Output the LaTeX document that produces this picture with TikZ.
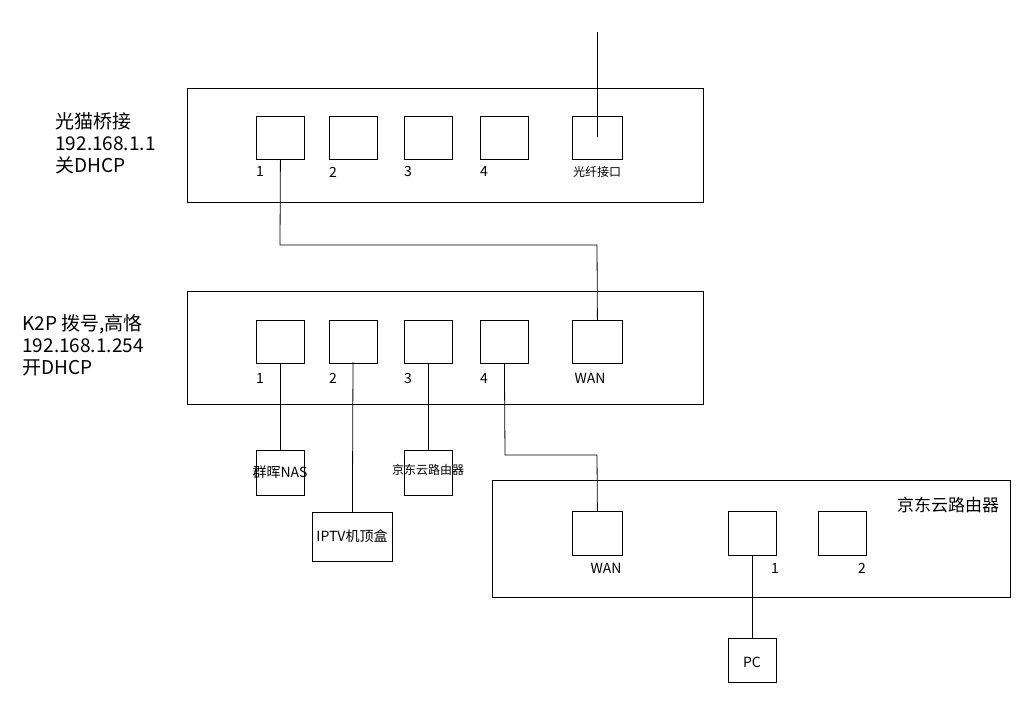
\documentclass[tikz,border=0pt]{standalone}
\usepackage{fontspec}
\setmainfont{Noto Sans CJK SC}[Scale=1]
\begin{document}
\begin{tikzpicture}[x=1pt,y=-1pt,line width=0.8pt,
  box/.style={draw,anchor=north west,inner sep=0pt},
  port/.style={draw,minimum width=48pt,minimum height=43pt,inner sep=0pt,anchor=north west},
  lbl/.style={font=\fontsize{14}{14}\selectfont,inner sep=0pt},
  big/.style={font=\fontsize{19}{22}\selectfont,inner sep=0pt,align=left,anchor=north west}]
\useasboundingbox (0,0) rectangle (1024,724);
% modem
\draw (187,88) rectangle (703,202);
\node[port] (m1) at (256,116) {};
\node[port] (m2) at (329,116) {};
\node[port] (m3) at (404,116) {};
\node[port] (m4) at (480,116) {};
\node[port,minimum width=50pt] (mf) at (572,116) {};
\node[lbl] at (260,172) {1};
\node[lbl] at (333,172) {2};
\node[lbl] at (408,172) {3};
\node[lbl] at (484,172) {4};
\node[lbl,font=\fontsize{12}{12}\selectfont] at (597,172) {光纤接口};
\node[big] at (55,112) {光猫桥接\\192.168.1.1\\关DHCP};
\coordinate (top) at (597,32);
\draw (top) -- (597,137);
% K2P
\draw (187,291) rectangle (703,404);
\node[port] (k1) at (256,320) {};
\node[port] (k2) at (329,320) {};
\node[port] (k3) at (404,320) {};
\node[port] (k4) at (480,320) {};
\node[port,minimum width=50pt] (kw) at (572,320) {};
\node[lbl] at (260,378) {1};
\node[lbl] at (333,378) {2};
\node[lbl] at (408,378) {3};
\node[lbl] at (484,378) {4};
\node[lbl] at (590,378) {WAN};
\node[big] at (22,314) {K2P 拨号,高恪\\192.168.1.254\\ 开DHCP};
\draw (m1.south) -- (280,245) -- (597,245) -- (kw.north);
% devices
\node[port,minimum height=45pt] (nas) at (256,450) {};
\node[lbl] at (280,472) {群晖NAS};
\node[port,minimum width=80pt,minimum height=49pt] (iptv) at (312,512) {};
\node[lbl] at (352,536) {IPTV机顶盒};
\node[port,minimum height=45pt] (jd) at (404,450) {};
\node[lbl,font=\fontsize{12}{12}\selectfont] at (428,470) {京东云路由器};
\draw (k1.south) -- (nas.north);
\draw (353,362) -- (iptv.north);
\draw (k3.south) -- (jd.north);
% JD router
\draw (492,480) rectangle (1010,597);
\node[port,minimum width=50pt,minimum height=44pt] (jw) at (572,511) {};
\node[port,minimum height=44pt] (j1) at (728,511) {};
\node[port,minimum height=44pt] (j2) at (818,511) {};
\node[lbl] at (606,568) {WAN};
\node[lbl] at (775,568) {1};
\node[lbl] at (862,568) {2};
\node[lbl,font=\fontsize{17}{17}\selectfont] at (948,505) {京东云路由器};
\draw (k4.south) -- (505,455) -- (597,455) -- (jw.north);
\node[port,minimum height=44pt] (pc) at (728,638) {};
\node[lbl] at (752,662) {PC};
\draw (j1.south) -- (pc.north);
\end{tikzpicture}
\end{document}
